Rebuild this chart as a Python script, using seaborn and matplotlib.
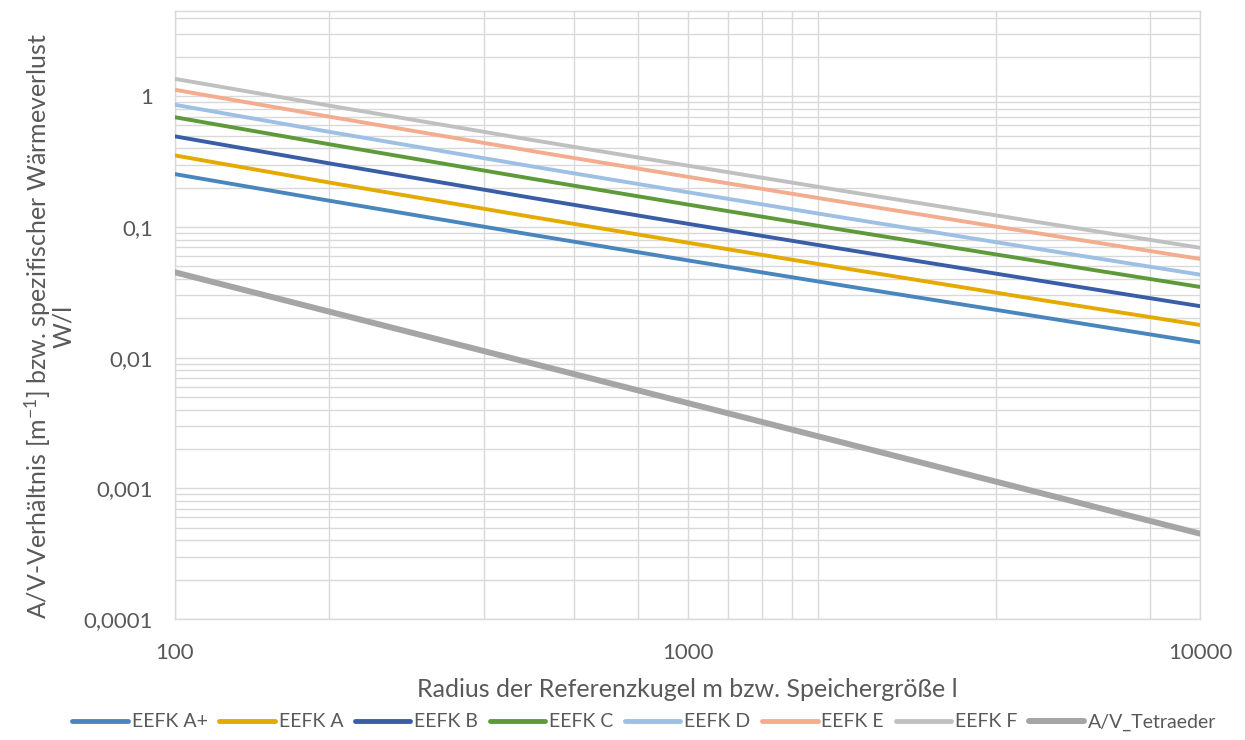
import matplotlib
matplotlib.use("Agg")
import matplotlib.pyplot as plt
import matplotlib.ticker as mticker
import numpy as np
import pandas as pd
import seaborn as sns

# Storage size (l) / sphere radius (m)
volume = [100, 200, 500, 1000, 2000, 5000, 10000]

# Specific standby heat loss per efficiency class (W/l)
eefk_a_plus = [0.254, 0.159, 0.0869, 0.0556, 0.0358, 0.0202, 0.0131]
eefk_a = [0.353, 0.219, 0.119, 0.0759, 0.0487, 0.0273, 0.0178]
eefk_b = [0.494, 0.307, 0.1665, 0.106, 0.068, 0.0382, 0.0248]
eefk_c = [0.692, 0.430, 0.2334, 0.1487, 0.0954, 0.0536, 0.0348]
eefk_d = [0.862, 0.535, 0.290, 0.1847, 0.1185, 0.0665, 0.0432]
eefk_e = [1.122, 0.699, 0.380, 0.2425, 0.1558, 0.0876, 0.0570]
eefk_f = [1.361, 0.849, 0.462, 0.2950, 0.1897, 0.1067, 0.0694]
# Surface-to-volume ratio (1/m)
av_tetraeder = [0.045, 0.0225, 0.009, 0.0045, 0.00225, 0.0009, 0.00045]

series_names = ["EEFK A+", "EEFK A", "EEFK B", "EEFK C", "EEFK D",
                "EEFK E", "EEFK F", "A/V_Tetraeder"]
series_values = [eefk_a_plus, eefk_a, eefk_b, eefk_c, eefk_d,
                 eefk_e, eefk_f, av_tetraeder]
colors = ["#4A86BE", "#E5AA00", "#3A5DA8", "#5E9A3A", "#9DC0E4",
          "#F3AC8E", "#C0C0C0", "#A5A5A5"]
widths = [2.8, 2.8, 2.8, 2.8, 2.8, 2.8, 2.8, 4.3]

x_major = [100, 1000, 10000]
x_minor = [200, 400, 600, 800, 1200, 1400, 1600, 1800, 4000, 8000]
y_major = [0.0001, 0.001, 0.01, 0.1, 1]
y_labels = ["0,0001", "0,001", "0,01", "0,1", "1"]

df = pd.concat(
    [pd.DataFrame({"x": volume, "y": vals, "series": name})
     for name, vals in zip(series_names, series_values)],
    ignore_index=True,
)

sns.set_theme(style="white")
plt.rcParams["font.family"] = ["Lato", "DejaVu Sans"]
plt.rcParams["mathtext.fontset"] = "custom"
plt.rcParams["mathtext.rm"] = "Lato"
plt.rcParams["mathtext.default"] = "regular"

text_color = "#595959"
grid_color = "#D9D9D9"

fig = plt.figure(figsize=(12.45, 7.4), dpi=100)
ax = fig.add_axes([175 / 1245, 1 - 619 / 740, (1200 - 175) / 1245, (619 - 11) / 740])

for name, col, lw in zip(series_names, colors, widths):
    sns.lineplot(data=df[df["series"] == name], x="x", y="y", ax=ax,
                 color=col, linewidth=lw, label=name, legend=False,
                 solid_capstyle="round", zorder=3)

ax.set_xscale("log")
ax.set_yscale("log")
ax.set_xlim(100, 10000)
ax.set_ylim(0.0001, 4.5)

ax.xaxis.set_major_locator(mticker.FixedLocator(x_major))
ax.xaxis.set_minor_locator(mticker.FixedLocator(x_minor))
ax.xaxis.set_major_formatter(mticker.FixedFormatter([str(v) for v in x_major]))
ax.xaxis.set_minor_formatter(mticker.NullFormatter())
ax.yaxis.set_major_locator(mticker.FixedLocator(y_major))
ax.yaxis.set_major_formatter(mticker.FixedFormatter(y_labels))
ax.yaxis.set_minor_locator(mticker.LogLocator(base=10, subs=np.arange(2, 10), numticks=20))
ax.yaxis.set_minor_formatter(mticker.NullFormatter())

ax.grid(True, which="both", color=grid_color, linewidth=1.0, zorder=0)
ax.set_axisbelow(True)
for sp in ax.spines.values():
    sp.set_visible(True)
    sp.set_color(grid_color)
    sp.set_linewidth(1.0)

ax.tick_params(axis="both", which="both", length=0, colors=text_color, labelsize=16)
ax.tick_params(axis="x", pad=17)
ax.tick_params(axis="y", pad=16)

ax.set_xlabel("Radius der Referenzkugel m bzw. Speichergröße l",
              fontsize=18, color=text_color, labelpad=11)
ax.set_ylabel("A/V-Verhältnis [m$^{-1}$] bzw. spezifischer Wärmeverlust\nW/l",
              fontsize=18, color=text_color, labelpad=6, multialignment="center",
              linespacing=0.95)
ax.yaxis.label.set_y(0.482)

handles, labels = ax.get_legend_handles_labels()
leg = fig.legend(handles, labels, loc="center", bbox_to_anchor=(0.5177, 1 - 722 / 740),
                 ncol=8, frameon=False, fontsize=14, handlelength=2.85,
                 handletextpad=0.2, columnspacing=0.6)
for t in leg.get_texts():
    t.set_color(text_color)
for h in leg.legend_handles:
    h.set_solid_capstyle("round")
    h.set_linewidth(3.5 if h.get_label() != "A/V_Tetraeder" else 4.3)

fig.savefig("out.png", dpi=100, facecolor="white")
